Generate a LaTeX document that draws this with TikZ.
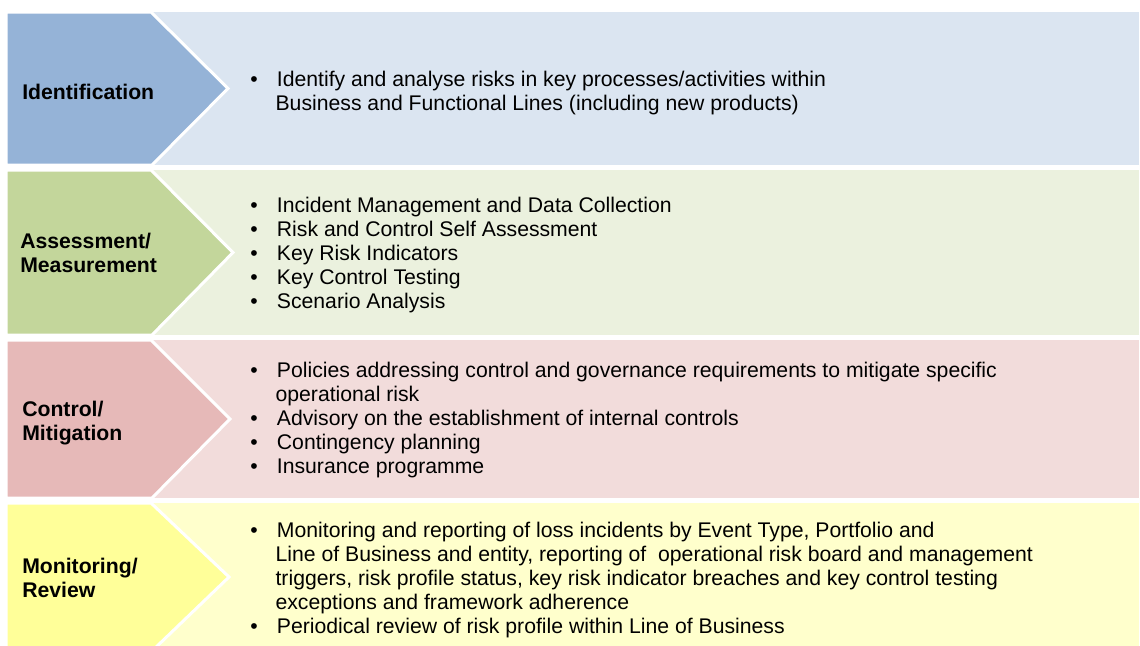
\documentclass[tikz,border=0pt]{standalone}
\usepackage{fontspec}
\setmainfont{Liberation Sans}
\usepackage{tikz}

\definecolor{identdark}{HTML}{95B3D7}
\definecolor{identlight}{HTML}{DBE5F1}
\definecolor{assessdark}{HTML}{C3D69B}
\definecolor{assesslight}{HTML}{EBF1DE}
\definecolor{controldark}{HTML}{E6B9B8}
\definecolor{controllight}{HTML}{F2DCDB}
\definecolor{monitordark}{HTML}{FFFF99}
\definecolor{monitorlight}{HTML}{FFFFCC}

\tikzset{
  % base anchor of a multi-line node sits on its last line
  stagelabel/.style={anchor=base west, inner sep=0pt, align=left,
    font=\bfseries\fontsize{15.9}{18}\selectfont},
  stagetext/.style={anchor=base west, inner sep=0pt, align=left,
    font=\fontsize{15.9}{18}\selectfont},
  stagearrow/.style={draw=white, line width=2.25pt, line join=miter}
}
\newcommand{\bpoint}{\makebox[20pt][l]{\textbullet}}
\newcommand{\bcont}{\hspace*{19pt}}

\begin{document}
\begin{tikzpicture}[x=0.75pt, y=-0.75pt]
    \useasboundingbox (0,0) rectangle (1140,646);
    \clip (0,0) rectangle (1140,646);

    % Identification
    \fill[identlight] (150,12) rectangle (1139,165);
    \path[fill=identdark, stagearrow] (6,12) -- (151,12) -- (228,88.5) -- (152,165) -- (6,165) -- cycle;
    \node[stagelabel] (ident) at (22,99) {Identification};
    \node[stagetext] (identtext) at (250,110) {\bpoint Identify and analyse risks in key processes/activities within\\
      \bcont Business and Functional Lines (including new products)};

    % Assessment / Measurement
    \fill[assesslight] (150,170) rectangle (1139,335);
    \path[fill=assessdark, stagearrow] (6,170) -- (151,170) -- (233,252.5) -- (152,335) -- (6,335) -- cycle;
    \node[stagelabel] (assess) at (20,272) {Assessment/\\Measurement};
    \node[stagetext] (assesstext) at (250,308) {\bpoint Incident Management and Data Collection\\
      \bpoint Risk and Control Self Assessment\\
      \bpoint Key Risk Indicators\\
      \bpoint Key Control Testing\\
      \bpoint Scenario Analysis};

    % Control / Mitigation
    \fill[controllight] (150,340) rectangle (1139,498);
    \path[fill=controldark, stagearrow] (6,340) -- (151,340) -- (230,419) -- (152,498) -- (6,498) -- cycle;
    \node[stagelabel] (control) at (22,440) {Control/\\Mitigation};
    \node[stagetext] (controltext) at (250,473) {\bpoint Policies addressing control and governance requirements to mitigate specific\\
      \bcont operational risk\\
      \bpoint Advisory on the establishment of internal controls\\
      \bpoint Contingency planning\\
      \bpoint Insurance programme};

    % Monitoring / Review
    \fill[monitorlight] (150,503) rectangle (1139,651);
    \path[fill=monitordark, stagearrow] (6,503) -- (151,503) -- (229,577) -- (152,651) -- (6,651) -- cycle;
    \node[stagelabel] (monitor) at (22,597) {Monitoring/\\Review};
    \node[stagetext] (monitortext) at (250,633) {\bpoint Monitoring and reporting of loss incidents by Event Type, Portfolio and\\
      \bcont Line of Business and entity, reporting of\ \ operational risk board and management\\
      \bcont triggers, risk profile status, key risk indicator breaches and key control testing\\
      \bcont exceptions and framework adherence\\
      \bpoint Periodical review of risk profile within Line of Business};
  \end{tikzpicture}
\end{document}
